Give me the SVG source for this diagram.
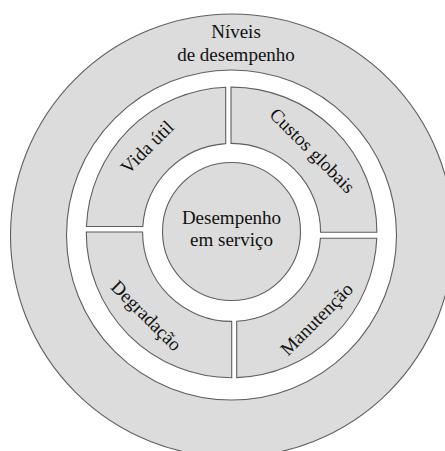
<svg xmlns="http://www.w3.org/2000/svg" width="445" height="451" viewBox="0 0 445 451">
<style>
.s{stroke:#5f5f5f;stroke-width:1.1}
.g{fill:#dcdcdc}
.w{fill:#ffffff}
text{font-family:"Liberation Serif","Times New Roman",serif;font-size:19px;fill:#111;text-anchor:middle}
</style>
<rect x="0" y="0" width="445" height="451" fill="#ffffff"/>
<g id="niveis">
<circle class="s g" cx="232" cy="235.5" r="221.5"/>
<text x="236" y="37.5">Níveis</text>
<text x="236" y="60.5">de desempenho</text>
</g>
<g id="ring">
<circle class="s w" cx="231.5" cy="235" r="165"/>
</g>
<g id="vida-util">
<path class="s g" d="M 86.42,226.5 A 145.3 145.3 0 0 1 225.7,87.22 L 225.7,143.6 A 89 89 0 0 0 142.8,226.5 Z"/>
<text transform="translate(147,147) rotate(-45)" x="0" y="6.5">Vida útil</text>
</g>
<g id="custos-globais">
<path class="s g" d="M 231,87.1 A 145.3 145.3 0 0 1 376.9,232.3 L 320.6,232.3 A 89 89 0 0 0 231,143.4 Z"/>
<text transform="translate(312.5,150.5) rotate(45)" x="0" y="6.5">Custos globais</text>
</g>
<g id="degradacao">
<path class="s g" d="M 86.3,232 L 142.6,232 A 89 89 0 0 0 231.7,321.4 L 231.7,377.7 A 145.3 145.3 0 0 1 86.3,232 Z"/>
<text transform="translate(146.5,315.5) rotate(45)" x="0" y="6.5">Degradação</text>
</g>
<g id="manutencao">
<path class="s g" d="M 320.4,238.3 L 376.78,238.3 A 145.3 145.3 0 0 1 236.7,377.61 L 236.7,321.25 A 89 89 0 0 0 320.4,238.3 Z"/>
<text transform="translate(316.5,319) rotate(-45)" x="0" y="6.5">Manutenção</text>
</g>
<g id="desempenho">
<circle class="s g" cx="231.5" cy="231.5" r="69"/>
<text x="231.5" y="224">Desempenho</text>
<text x="231.5" y="246">em serviço</text>
</g>
<g id="connectors"/>
</svg>
